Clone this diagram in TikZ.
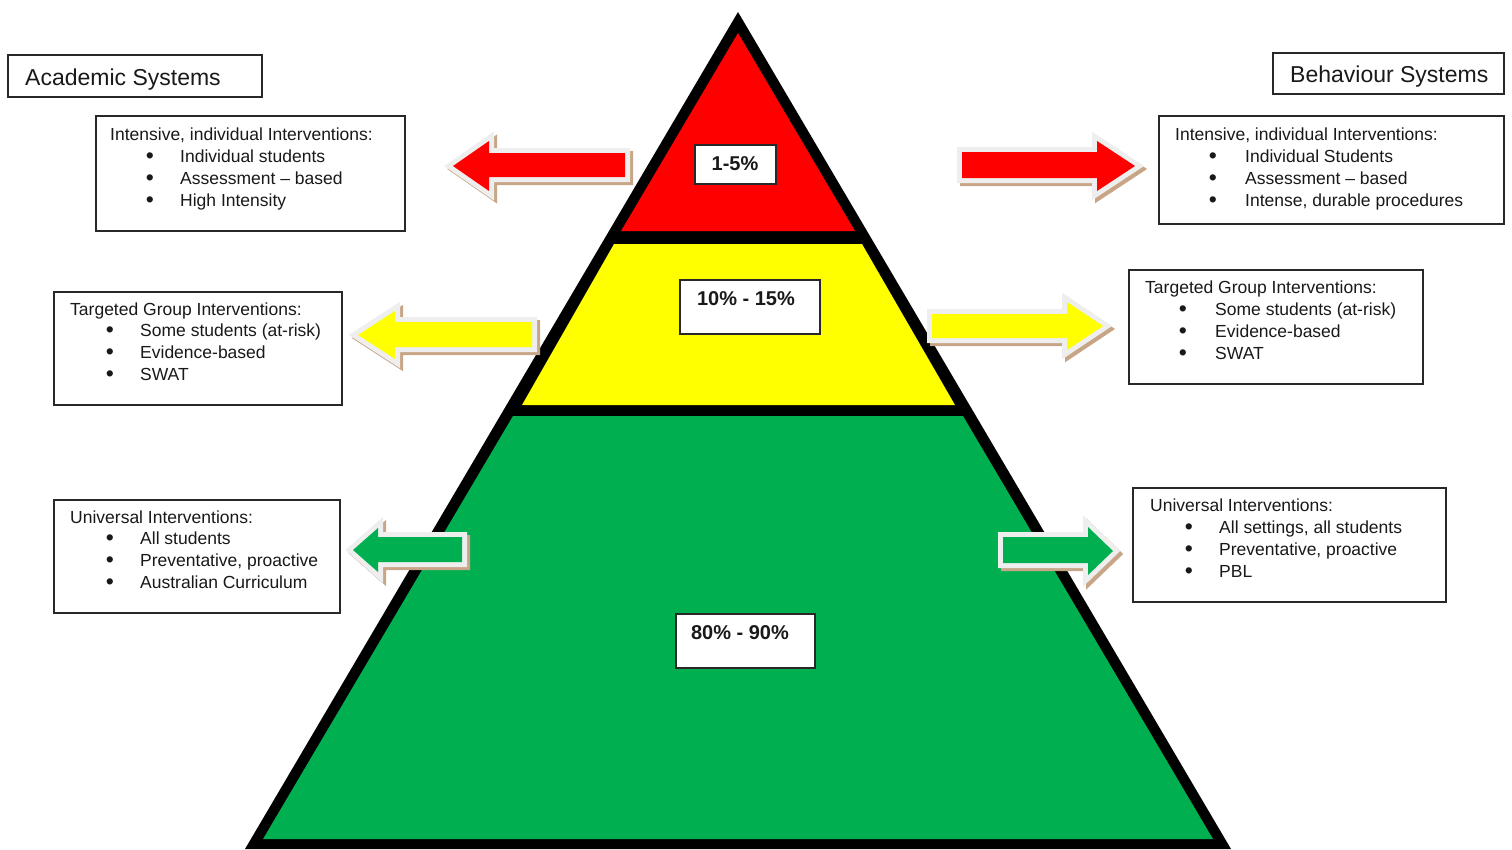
\documentclass[tikz,border=0pt]{standalone}
\usepackage{fontspec}
\setmainfont{Liberation Sans}
\definecolor{pyrred}{RGB}{255,0,0}
\definecolor{pyryellow}{RGB}{255,255,0}
\definecolor{pyrgreen}{RGB}{0,176,80}
\definecolor{arrowedge}{RGB}{238,238,238}
\definecolor{arrowshadow}{RGB}{200,165,135}
\definecolor{boxline}{RGB}{40,40,40}
\definecolor{txtcol}{RGB}{25,25,25}
\newcommand\pyrarrow[2]{%
  \draw[arrowshadow, line width=10pt, line join=miter, shift={(3,3)}] #2 -- cycle;
  \draw[arrowedge, line width=10pt, line join=miter] #2 -- cycle;
  \fill[#1] #2 -- cycle;}
\newcommand\bitem[5]{%
  \node[bul] (#1b) at (#2,#4+1) {•};
  \node[bodytxt] (#1) at (#3,#4) {#5};}
\begin{document}
\begin{tikzpicture}[x=1pt,y=-1pt,
  infobox/.style={draw=boxline, line width=1.3pt, fill=white, anchor=north west, inner sep=0, outer sep=0},
  pctbox/.style={draw=boxline, line width=1.5pt, fill=white, anchor=north west, inner sep=0, outer sep=0},
  bodytxt/.style={anchor=base west, inner sep=0, text=txtcol, font=\fontsize{17.5}{21}\selectfont},
  bul/.style={anchor=base, inner sep=0, text=txtcol, font=\fontsize{23}{27}\selectfont},
  headtxt/.style={anchor=base west, inner sep=0, text=txtcol, font=\fontsize{23}{27}\selectfont},
  pcttxt/.style={anchor=base, inner sep=0, text=txtcol, font=\bfseries\fontsize{20}{24}\selectfont}]
\useasboundingbox (0,0) rectangle (1512,849);
% pyramid
\fill[black] (738,12) -- (245,849) -- (1231,849) -- cycle;
\fill[pyrred] (738,33) -- (621,231) -- (855,231) -- cycle;
\fill[pyryellow] (614,244) -- (862,244) -- (955,405) -- (522,405) -- cycle;
\fill[pyrgreen] (513,416) -- (963,416) -- (1213,839) -- (263,839) -- cycle;
% percentage boxes
\node[pctbox, minimum width=81pt, minimum height=39pt] (p1) at (695,145) {};
\node[pcttxt] (p1t) at (735,170) {1-5\%};
\node[pctbox, minimum width=140pt, minimum height=54pt] (p2) at (680,280) {};
\node[pcttxt] (p2t) at (746,305) {10\% - 15\%};
\node[pctbox, minimum width=139pt, minimum height=54pt] (p3) at (676,614) {};
\node[pcttxt] (p3t) at (740,639) {80\% - 90\%};
% arrows
\pyrarrow{pyrred}{(453,166) -- (489,141) -- (489,153) -- (625,153) -- (625,177) -- (489,177) -- (489,191)}
\pyrarrow{pyrred}{(962,152) -- (1097,152) -- (1097,141) -- (1135,166) -- (1097,191) -- (1097,178) -- (962,178)}
\pyrarrow{pyryellow}{(358,335) -- (395,311) -- (395,322) -- (532,322) -- (532,347) -- (395,347) -- (395,359)}
\pyrarrow{pyryellow}{(932,314) -- (1067,314) -- (1067,302) -- (1103,326) -- (1067,350) -- (1067,338) -- (932,338)}
\pyrarrow{pyrgreen}{(353,550) -- (378,528) -- (378,537) -- (462,537) -- (462,562) -- (378,562) -- (378,572)}
\pyrarrow{pyrgreen}{(1003,537) -- (1088,537) -- (1088,527) -- (1113,551) -- (1088,575) -- (1088,563) -- (1003,563)}
% system labels
\node[infobox, minimum width=254pt, minimum height=42pt] (acad) at (8,55) {};
\node[headtxt] (acadt) at (25,85) {Academic Systems};
\node[infobox, minimum width=231pt, minimum height=41pt] (behav) at (1273,53) {};
\node[headtxt] (behavt) at (1290,82) {Behaviour Systems};
% left boxes
\node[infobox, minimum width=309pt, minimum height=115pt] (L1) at (96,116) {};
\node[bodytxt] (L1t) at (110,140) {Intensive, individual Interventions:};
\bitem{L1a}{150}{180}{162}{Individual students}
\bitem{L1c}{150}{180}{184}{Assessment – based}
\bitem{L1d}{150}{180}{206}{High Intensity}
\node[infobox, minimum width=288pt, minimum height=113pt] (L2) at (54,292) {};
\node[bodytxt] (L2t) at (70,315) {Targeted Group Interventions:};
\bitem{L2a}{110}{140}{336}{Some students (at-risk)}
\bitem{L2c}{110}{140}{358}{Evidence-based}
\bitem{L2d}{110}{140}{380}{SWAT}
\node[infobox, minimum width=286pt, minimum height=113pt] (L3) at (54,500) {};
\node[bodytxt] (L3t) at (70,523) {Universal Interventions:};
\bitem{L3a}{110}{140}{544}{All students}
\bitem{L3c}{110}{140}{566}{Preventative, proactive}
\bitem{L3d}{110}{140}{588}{Australian Curriculum}
% right boxes
\node[infobox, minimum width=345pt, minimum height=108pt] (R1) at (1159,116) {};
\node[bodytxt] (R1t) at (1175,140) {Intensive, individual Interventions:};
\bitem{R1a}{1213}{1245}{162}{Individual Students}
\bitem{R1c}{1213}{1245}{184}{Assessment – based}
\bitem{R1d}{1213}{1245}{206}{Intense, durable procedures}
\node[infobox, minimum width=294pt, minimum height=114pt] (R2) at (1129,270) {};
\node[bodytxt] (R2t) at (1145,293) {Targeted Group Interventions:};
\bitem{R2a}{1183}{1215}{315}{Some students (at-risk)}
\bitem{R2c}{1183}{1215}{337}{Evidence-based}
\bitem{R2d}{1183}{1215}{359}{SWAT}
\node[infobox, minimum width=313pt, minimum height=114pt] (R3) at (1133,488) {};
\node[bodytxt] (R3t) at (1150,511) {Universal Interventions:};
\bitem{R3a}{1189}{1219}{533}{All settings, all students}
\bitem{R3c}{1189}{1219}{555}{Preventative, proactive}
\bitem{R3d}{1189}{1219}{577}{PBL}
\end{tikzpicture}
\end{document}
